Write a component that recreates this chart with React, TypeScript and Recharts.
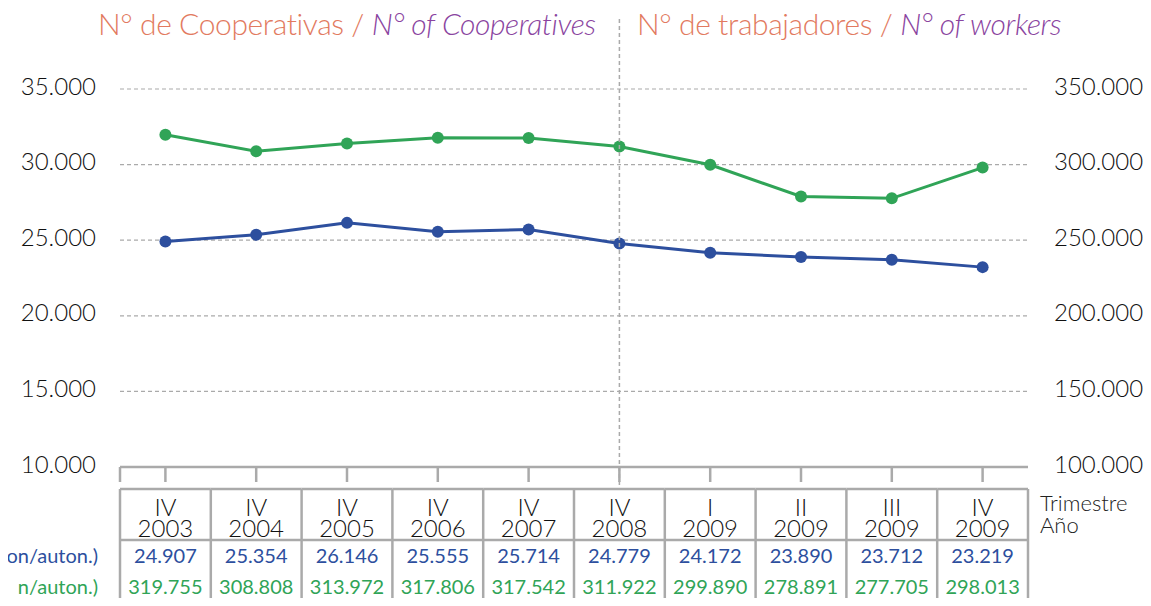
import { LineChart, Line, XAxis, YAxis, CartesianGrid } from 'recharts'

const quarters = ['IV', 'IV', 'IV', 'IV', 'IV', 'IV', 'I', 'II', 'III', 'IV']
const years = ['2003', '2004', '2005', '2006', '2007', '2008', '2009', '2009', '2009', '2009']
const cooperatives = [24907, 25354, 26146, 25555, 25714, 24779, 24172, 23890, 23712, 23219]
const workers = [319755, 308808, 313972, 317806, 317542, 311922, 299890, 278891, 277705, 298013]
const leftTicks = [10000, 15000, 20000, 25000, 30000, 35000]
const rightTicks = [100000, 150000, 200000, 250000, 300000, 350000]
const dividerAt = 'IV-2008'

const BLUE = '#2d4f9e'
const GREEN = '#30a457'
const ORANGE = '#e27a60'
const PURPLE = '#8a44a0'
const GRID = '#aaaaaa'
const FONT = 'Lato, "Open Sans", sans-serif'

const PLOT_W = 908
const PAD = 45.4
const BAND = (PLOT_W - PAD * 2) / (quarters.length - 1)

const data = quarters.map((q, i) => ({
  key: `${q}-${years[i]}`,
  quarter: q,
  year: years[i],
  coops: cooperatives[i],
  workers: workers[i],
}))

// thousands with a dot, as in the original
const fmt = (n: number) => String(n).replace(/\B(?=(\d{3})+(?!\d))/g, '.')

const LeftTick = ({ x, y, payload }: any) => (
  <text x={x} y={y - 4} textAnchor="end" dominantBaseline="central"
    fontSize={24} fontWeight={300} fill="#111" fontFamily={FONT}>
    {fmt(payload.value)}
  </text>
)

const RightTick = ({ x, y, payload }: any) => (
  <text x={x} y={y - 4} textAnchor="start" dominantBaseline="central"
    fontSize={24} fontWeight={300} fill="#111" fontFamily={FONT}>
    {fmt(payload.value)}
  </text>
)

// x axis ticks double as the data table under the chart
const TableTick = ({ x, y, index }: any) => {
  const d = data[index]
  const half = BAND / 2
  const top = y + 2
  const left = x - half
  const right = x + half
  const stroke = { stroke: GRID, strokeWidth: 2.5 }
  return (
    <g>
      {d.key === dividerAt && (
        <line x1={x} y1={top - 470} x2={x} y2={top}
          stroke={GRID} strokeWidth={1.5} strokeDasharray="4 3" />
      )}
      {index === 0 && <line x1={left} y1={top - 22} x2={left} y2={top - 7} {...stroke} />}
      {index === 0 && <line x1={left} y1={top} x2={left} y2={top + 130} {...stroke} />}
      <line x1={right} y1={top} x2={right} y2={top + 130} {...stroke} />
      <line x1={left} y1={top} x2={right} y2={top} {...stroke} />
      <line x1={left} y1={top + 51} x2={right} y2={top + 51} {...stroke} />
      <text x={x} y={top + 27} textAnchor="middle" fontSize={24} fontWeight={300} fill="#111" fontFamily={FONT}>
        {d.quarter}
      </text>
      <text x={x} y={top + 48} textAnchor="middle" fontSize={24} fontWeight={300} fill="#111" fontFamily={FONT}>
        {d.year}
      </text>
      <text x={x} y={top + 74} textAnchor="middle" fontSize={20} fill={BLUE} fontFamily={FONT}>
        {fmt(d.coops)}
      </text>
      <text x={x} y={top + 105} textAnchor="middle" fontSize={20} fill={GREEN} fontFamily={FONT}>
        {fmt(d.workers)}
      </text>
    </g>
  )
}

export default function App() {
  return (
    <div style={{ position: 'relative', width: 1151, height: 606, margin: -8, fontFamily: FONT, background: '#fff', overflow: 'hidden' }}>
      <div style={{ position: 'absolute', left: 98, top: 5, fontSize: 30, fontWeight: 300, whiteSpace: 'nowrap', letterSpacing: -0.4 }}>
        <span style={{ color: ORANGE }}>N° de Cooperativas / </span>
        <span style={{ color: PURPLE, fontStyle: 'italic' }}>N° of Cooperatives</span>
      </div>
      <div style={{ position: 'absolute', left: 637, top: 5, fontSize: 30, fontWeight: 300, whiteSpace: 'nowrap', letterSpacing: -0.4 }}>
        <span style={{ color: ORANGE }}>N° de trabajadores / </span>
        <span style={{ color: PURPLE, fontStyle: 'italic' }}>N° of workers</span>
      </div>
      <div style={{ position: 'absolute', right: 1151 - 98, top: 543, fontSize: 20, color: BLUE, whiteSpace: 'nowrap' }}>
        on/auton.)
      </div>
      <div style={{ position: 'absolute', right: 1151 - 98, top: 574, fontSize: 20, color: GREEN, whiteSpace: 'nowrap' }}>
        n/auton.)
      </div>
      <div style={{ position: 'absolute', left: 1040, top: 492, fontSize: 22, fontWeight: 300, color: '#222', lineHeight: '22px' }}>
        Trimestre<br />Año
      </div>
      <LineChart width={1151} height={606} data={data}
        margin={{ top: 89, right: 0, bottom: 0, left: 0 }}
        style={{ position: 'absolute', left: 0, top: 0 }}>
        <CartesianGrid yAxisId="left" vertical={false} stroke={GRID} strokeDasharray="4 3" strokeWidth={1.2} />
        <XAxis dataKey="key" interval={0} height={139}
          padding={{ left: PAD, right: PAD }}
          axisLine={{ stroke: GRID, strokeWidth: 2.5 }}
          tickLine={{ stroke: GRID, strokeWidth: 2.5 }}
          tickSize={15} tickMargin={5}
          tick={<TableTick />} />
        <YAxis yAxisId="left" orientation="left" width={120}
          domain={[10000, 35000]} ticks={leftTicks} interval={0}
          axisLine={false} tickLine={false} tickSize={0} tickMargin={24}
          tick={<LeftTick />} />
        <YAxis yAxisId="right" orientation="right" width={123}
          domain={[100000, 350000]} ticks={rightTicks} interval={0}
          axisLine={false} tickLine={false} tickSize={0} tickMargin={26}
          tick={<RightTick />} />
        <Line yAxisId="left" dataKey="coops" stroke={BLUE} strokeWidth={3}
          dot={{ r: 6, fill: BLUE, stroke: BLUE, strokeWidth: 0 }}
          isAnimationActive={false} />
        <Line yAxisId="right" dataKey="workers" stroke={GREEN} strokeWidth={3}
          dot={{ r: 6, fill: GREEN, stroke: GREEN, strokeWidth: 0 }}
          isAnimationActive={false} />
      </LineChart>
    </div>
  )
}
